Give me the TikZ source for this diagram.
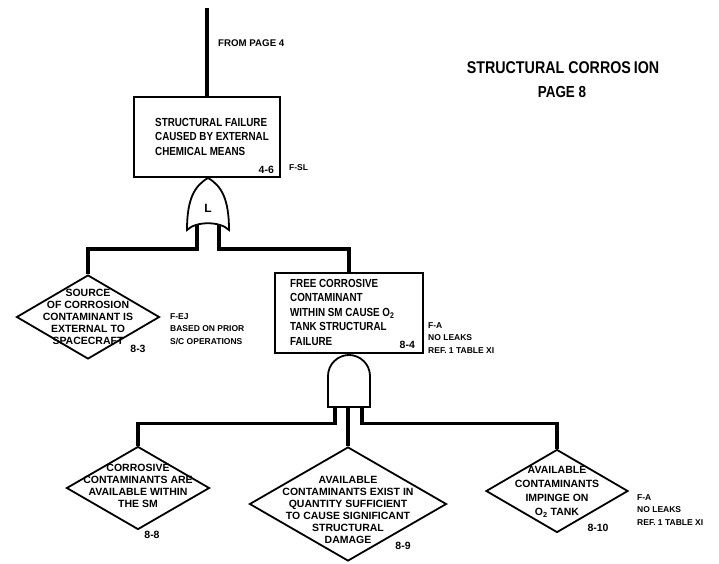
\documentclass[tikz,border=0pt]{standalone}
\usepackage{fontspec}
\setmainfont[FakeStretch=0.84]{Liberation Sans}
\newfontfamily\widefont{Liberation Sans}
\usepackage{tikz}
\usetikzlibrary{calc}
\usetikzlibrary{shapes.geometric}
\tikzset{>=latex}
\tikzset{
	conn/.style={line width=3.6pt},
	gate/.style={line width=1.8pt, fill=white},
	boxy/.style={draw, line width=2.2pt, minimum width=146pt, minimum height=80pt, inner sep=0pt},
	dia/.style={diamond, draw, line width=1.8pt, inner sep=0pt},
	btext/.style={align=left, anchor=north west, inner sep=0pt, font=\fontsize{11.7}{14.5}\selectfont\bfseries},
	dtext/.style={align=center, inner sep=0pt, font=\widefont\fontsize{10.5}{12}\selectfont\bfseries},
	note/.style={align=left, anchor=north west, inner sep=0pt, font=\widefont\fontsize{8.5}{12.5}\selectfont\bfseries},
	num/.style={inner sep=0pt, font=\widefont\fontsize{10.5}{11}\selectfont\bfseries}
}

\begin{document}
\begin{tikzpicture}[x=1pt,y=-1pt]
			\useasboundingbox (0,0) rectangle (719,563);
			\coordinate (src) at (207,8);
			\coordinate (orT) at (208,178);
			\coordinate (orA) at (197,224);
			\coordinate (orB) at (219,224);
			\coordinate (andT) at (349,355);
			\coordinate (andA) at (335,407);
			\coordinate (andB) at (348,407);
			\coordinate (andC) at (362,407);
			% title
			\node[font=\fontsize{17}{20}\selectfont\bfseries] (title) at (563,68) {STRUCTURAL CORROS\,ION};
			\node[font=\fontsize{16}{18}\selectfont\bfseries] (page) at (562,92) {PAGE 8};
			% top event
			\node[boxy] (top) at (207,137) {};
			\node[btext] (topT) at (155,118) {STRUCTURAL FAILURE\\CAUSED BY EXTERNAL\\CHEMICAL MEANS};
			\node[num, anchor=south east] (topN) at ($(top.south east)+(-7,-4)$) {4-6};
			\node[note] (topF) at (289,164) {F-SL};
			\node[note, font=\widefont\fontsize{9.7}{12}\selectfont\bfseries] (from) at (218,40) {FROM PAGE 4};
			\draw[conn] (src) -- (top.north);
			% second box
			\node[boxy, minimum width=148pt] (bx) at (349,313) {};
			\node[btext] (bxT) at (290,279) {FREE CORROSIVE\\CONTAMINANT\\WITHIN SM CAUSE O\textsubscript{2}\\TANK STRUCTURAL\\FAILURE};
			\node[num, anchor=south east] (bxN) at ($(bx.south east)+(-9,-5)$) {8-4};
			\node[note] (bxF) at (428,322) {F-A\\NO LEAKS\\REF. 1 TABLE XI};
			% diamonds
			\node[dia, minimum width=143pt, minimum height=84pt] (dA) at (88,317) {};
			\node[dtext] (dAT) at (dA.center) {SOURCE\\OF CORROSION\\CONTAMINANT IS\\EXTERNAL TO\\SPACECRAFT};
			\node[num] (dAN) at (138,349) {8-3};
			\node[note] (dAF) at (170,313) {F-EJ\\BASED ON PRIOR\\S/C OPERATIONS};
			\node[dia, minimum width=143pt, minimum height=83pt] (dB) at (138,488) {};
			\node[dtext] (dBT) at ($(dB.center)+(0,-2)$) {CORROSIVE\\CONTAMINANTS ARE\\AVAILABLE WITHIN\\THE SM};
			\node[num] (dBN) at (152,535) {8-8};
			\node[dia, minimum width=197pt, minimum height=114pt] (dC) at (348,504) {};
			\node[dtext] (dCT) at ($(dC.center)+(0,6)$) {AVAILABLE\\CONTAMINANTS EXIST IN\\QUANTITY SUFFICIENT\\TO CAUSE SIGNIFICANT\\STRUCTURAL\\DAMAGE};
			\node[num] (dCN) at (403,546) {8-9};
			\node[dia, minimum width=142pt, minimum height=83pt] (dD) at (557,491) {};
			\node[dtext, font=\widefont\fontsize{10.5}{14}\selectfont\bfseries] (dDT) at ($(dD.center)+(0,1)$) {AVAILABLE\\CONTAMINANTS\\IMPINGE ON\\O\textsubscript{2} TANK};
			\node[num] (dDN) at (598,528) {8-10};
			\node[note] (dDF) at (637,494) {F-A\\NO LEAKS\\REF. 1 TABLE XI};
			% OR gate
			\draw[conn] (dA.north) -- ++(0,-25) -| (orA);
			\draw[conn] (bx.north) -- ++(0,-23) -| (orB);
			\draw[gate] (orT) .. controls (194,186) and (187,200) .. (187,230) .. controls (196,221) and (220,221) .. (229,230) .. controls (229,200) and (222,186) .. (orT) -- cycle;
			\node[font=\widefont\fontsize{12}{13}\selectfont\bfseries] (orL) at (208,208) {L};
			% AND gate
			\draw[conn] (bx.south) -- (andT);
			\draw[conn] (dB.north) -- ++(0,-22) -| (andA);
			\draw[conn] (dC.north) -- (andB);
			\draw[conn] (dD.north) -- ++(0,-25) -| (andC);
			\draw[gate] (328,407) -- (328,376) .. controls (328,364) and (338,355) .. (andT) .. controls (360,355) and (370,364) .. (370,376) -- (370,407) -- cycle;
		\end{tikzpicture}
\end{document}
